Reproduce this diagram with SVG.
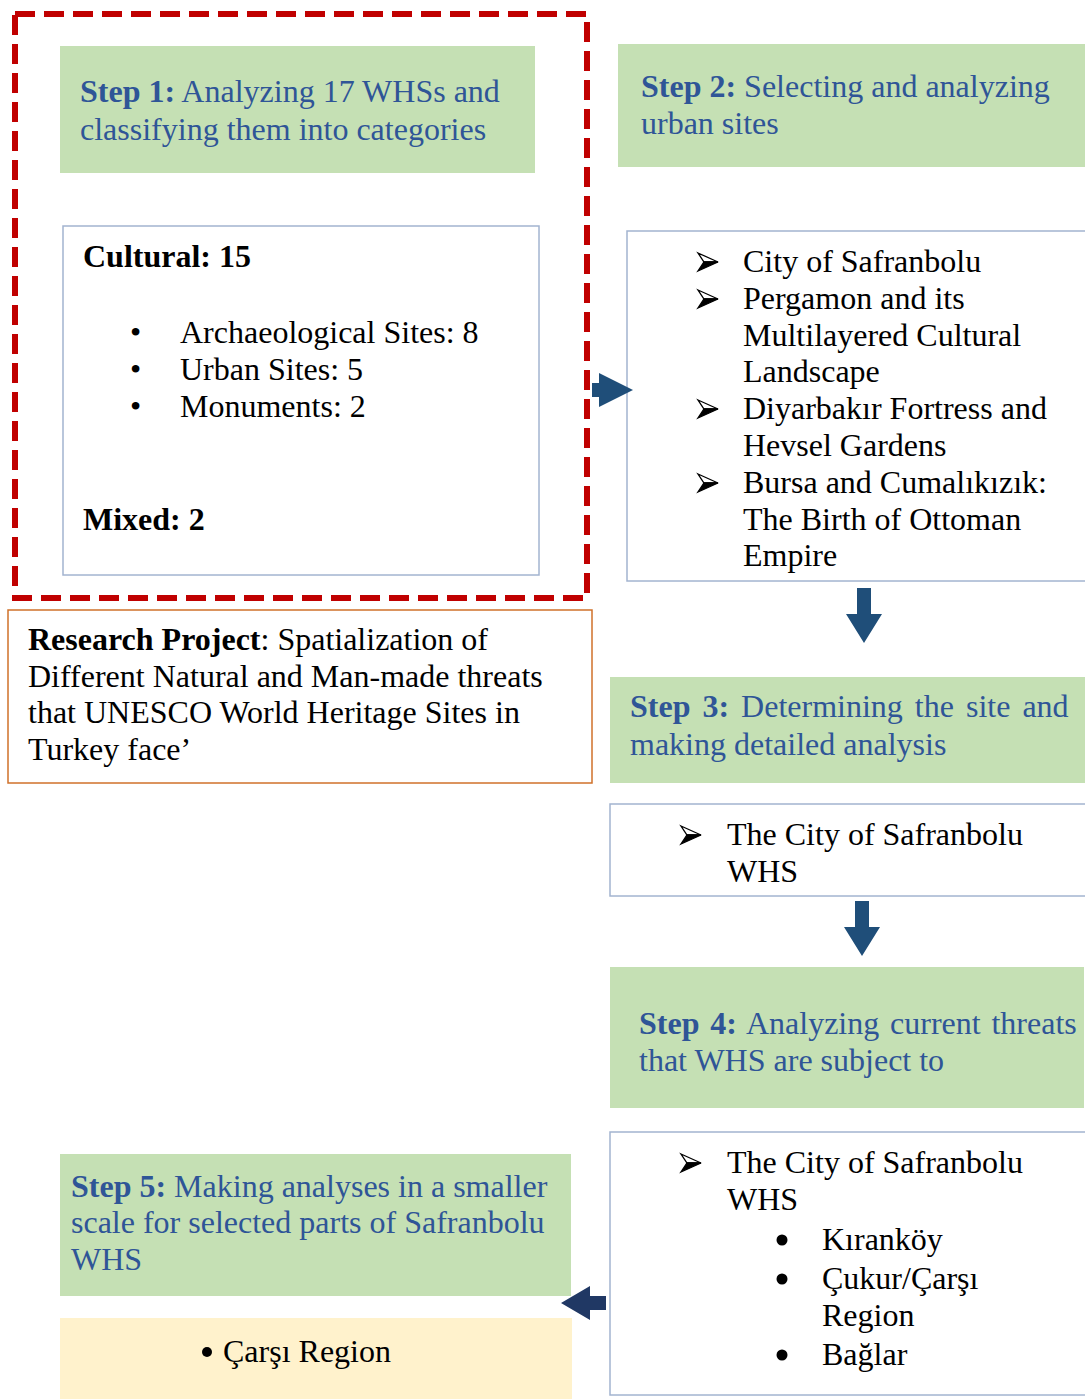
<svg xmlns="http://www.w3.org/2000/svg" width="1085" height="1399" viewBox="0 0 1085 1399">
  <style>
    text { font-family: "Liberation Serif", "Times New Roman", serif; font-size: 32px; }
    .blue { fill: #2F5597; }
    .black { fill: #000000; }
    .b { font-weight: bold; }
    .step { fill: #C5E0B4; }
    .list { fill: #FFFFFF; stroke: #A3B4D0; stroke-width: 1.5; }
    .note { fill: #FFF2CC; }
    .conn { fill: #1F4E79; }
  </style>
  <defs>
    <!-- arrowhead bullet, half outlined, half filled -->
    <g id="arrowBullet">
      <path d="M0,-9 L20,0 L6,0 Z" fill="#FFFFFF" stroke="#000000" stroke-width="1.3" stroke-linejoin="miter"/>
      <path d="M0,9 L20,0 L6,0 Z" fill="#000000" stroke="#000000" stroke-width="1.3"/>
    </g>
  </defs>

  <rect width="1085" height="1399" fill="#FFFFFF"/>

  <!-- dashed frame around step 1 -->
  <g id="step1-frame">
    <rect x="15" y="14" width="572" height="584" fill="none" stroke="#C00000" stroke-width="6" stroke-dasharray="20 9"/>
  </g>

  <g id="step1">
    <rect class="step" x="60" y="46" width="475" height="127"/>
    <text class="blue" x="80" y="102"><tspan class="b">Step 1:</tspan> Analyzing 17 WHSs and</text>
    <text class="blue" x="80" y="140">classifying them into categories</text>
  </g>

  <g id="categories">
    <rect class="list" x="63" y="226" width="476" height="349"/>
    <text class="black b" x="83" y="267">Cultural: 15</text>
    <text class="black" x="130" y="343">•</text>
    <text class="black" x="180" y="343">Archaeological Sites: 8</text>
    <text class="black" x="130" y="380">•</text>
    <text class="black" x="180" y="380">Urban Sites: 5</text>
    <text class="black" x="130" y="417">•</text>
    <text class="black" x="180" y="417">Monuments: 2</text>
    <text class="black b" x="83" y="530">Mixed: 2</text>
  </g>

  <g id="research-project">
    <rect x="8" y="610" width="584" height="173" fill="#FFFFFF" stroke="#D0712A" stroke-width="1.5"/>
    <text class="black" x="28" y="650"><tspan class="b">Research Project</tspan>: Spatialization of</text>
    <text class="black" x="28" y="687">Different Natural and Man-made threats</text>
    <text class="black" x="28" y="723">that UNESCO World Heritage Sites in</text>
    <text class="black" x="28" y="760">Turkey face’</text>
  </g>

  <g id="step2">
    <rect class="step" x="618" y="44" width="467" height="123"/>
    <text class="blue" x="641" y="97"><tspan class="b">Step 2:</tspan> Selecting and analyzing</text>
    <text class="blue" x="641" y="134">urban sites</text>
  </g>

  <g id="urban-sites">
    <rect class="list" x="627" y="231" width="470" height="350"/>
    <use href="#arrowBullet" x="698" y="262"/>
    <text class="black" x="743" y="272">City of Safranbolu</text>
    <use href="#arrowBullet" x="698" y="299"/>
    <text class="black" x="743" y="309">Pergamon and its</text>
    <text class="black" x="743" y="346">Multilayered Cultural</text>
    <text class="black" x="743" y="382">Landscape</text>
    <use href="#arrowBullet" x="698" y="409"/>
    <text class="black" x="743" y="419">Diyarbakır Fortress and</text>
    <text class="black" x="743" y="456">Hevsel Gardens</text>
    <use href="#arrowBullet" x="698" y="483"/>
    <text class="black" x="743" y="493">Bursa and Cumalıkızık:</text>
    <text class="black" x="743" y="530">The Birth of Ottoman</text>
    <text class="black" x="743" y="566">Empire</text>
  </g>

  <g id="step3">
    <rect class="step" x="610" y="677" width="475" height="106"/>
    <text class="blue" x="630" y="717" word-spacing="4"><tspan class="b">Step 3:</tspan> Determining the site and</text>
    <text class="blue" x="630" y="755">making detailed analysis</text>
  </g>

  <g id="selected-site">
    <rect class="list" x="610" y="804" width="487" height="92"/>
    <use href="#arrowBullet" x="681" y="835"/>
    <text class="black" x="727" y="845">The City of Safranbolu</text>
    <text class="black" x="727" y="882">WHS</text>
  </g>

  <g id="step4">
    <rect class="step" x="610" y="967" width="474" height="141"/>
    <text class="blue" x="639" y="1034" word-spacing="2.8"><tspan class="b">Step 4:</tspan> Analyzing current threats</text>
    <text class="blue" x="639" y="1071">that WHS are subject to</text>
  </g>

  <g id="site-parts">
    <rect class="list" x="610" y="1132" width="487" height="263"/>
    <use href="#arrowBullet" x="681" y="1163"/>
    <text class="black" x="727" y="1173">The City of Safranbolu</text>
    <text class="black" x="727" y="1210">WHS</text>
    <circle cx="782" cy="1240" r="5.5" fill="#000000"/>
    <text class="black" x="822" y="1250">Kıranköy</text>
    <circle cx="782" cy="1279" r="5.5" fill="#000000"/>
    <text class="black" x="822" y="1289">Çukur/Çarşı</text>
    <text class="black" x="822" y="1326">Region</text>
    <circle cx="782" cy="1355" r="5.5" fill="#000000"/>
    <text class="black" x="822" y="1365">Bağlar</text>
  </g>

  <g id="step5">
    <rect class="step" x="60" y="1154" width="511" height="142"/>
    <text class="blue" x="71" y="1197"><tspan class="b">Step 5:</tspan> Making analyses in a smaller</text>
    <text class="blue" x="71" y="1233">scale for selected parts of Safranbolu</text>
    <text class="blue" x="71" y="1270">WHS</text>
  </g>

  <g id="focus-area">
    <rect class="note" x="60" y="1318" width="512" height="81"/>
    <circle cx="207" cy="1352" r="5" fill="#000000"/>
    <text class="black" x="223" y="1362">Çarşı Region</text>
  </g>

  <g id="connectors">
    <!-- step 1 to step 2 list -->
    <path class="conn" d="M592,383 H599 V373 L633,390 L599,407 V397 H592 Z"/>
    <!-- step 2 list to step 3 -->
    <path class="conn" d="M857,588 H871 V614 H882 L864,643 L846,614 H857 Z"/>
    <!-- step 3 box to step 4 -->
    <path class="conn" d="M855,901 H869 V927 H880 L862,956 L844,927 H855 Z"/>
    <!-- step 4 list to step 5 -->
    <path d="M606,1296 H590 V1286 L561,1303 L590,1320 V1310 H606 Z" fill="#203864"/>
  </g>
</svg>
